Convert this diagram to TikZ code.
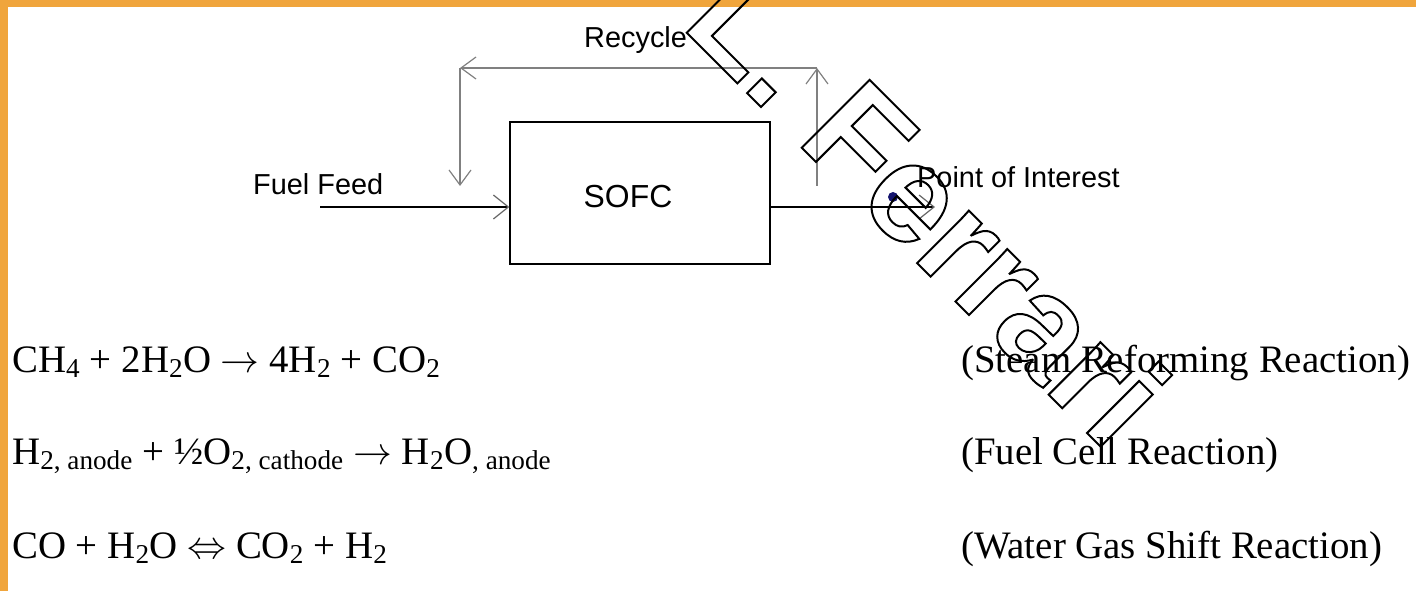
\documentclass[tikz,border=0pt]{standalone}
\usepackage{fix-cm}
\usepackage{fontspec}
\setmainfont{Liberation Serif}
\setsansfont{Liberation Sans}
\usetikzlibrary{arrows.meta}

\definecolor{slideorange}{RGB}{240,165,60}
\definecolor{dotnavy}{RGB}{20,20,110}

\begin{document}
\begin{tikzpicture}[x=1bp,y=-1bp,
  labeltext/.style={font=\sffamily\fontsize{29}{34}\selectfont, inner sep=0, anchor=base west},
  eqtext/.style={font=\fontsize{39}{47}\selectfont, inner sep=0, anchor=base west},
  unitbox/.style={draw, line width=1.3bp, minimum width=260bp, minimum height=142bp, inner sep=0},
  unitlabel/.style={font=\sffamily\fontsize{32}{38}\selectfont, inner sep=0},
  feedline/.style={line width=1.2bp, -{Straight Barb[length=15bp, width=24bp, color=black!60]}},
  recycleline/.style={black!50, line width=1.2bp, -{Straight Barb[length=15bp, width=22bp]}},
  poi/.style={circle, fill=dotnavy, minimum size=10bp, inner sep=0},
  watermark/.style={font=\sffamily\bfseries\fontsize{140}{140}\selectfont, inner sep=0, rotate=-45, anchor=base west}]
\useasboundingbox (0,0) rectangle (1416,591);
\fill[slideorange] (0,0) rectangle (8,591);
\fill[slideorange] (0,0) rectangle (1416,7);

\node[unitbox] (sofc) at (640,193) {};
\node[unitlabel] (sofclbl) at (628,197) {SOFC};
\node[labeltext] (feedlbl) at (253,195) {Fuel Feed};
\node[labeltext] (reclbl) at (584,48) {Recycle};
\node[labeltext] (poilbl) at (917,188) {Point of Interest};
\node[poi] (point) at (893,197) {};

\coordinate (feedin) at (320,207);
\coordinate (outlet) at (935,207);
\coordinate (recup) at (817,186);
\coordinate (rectr) at (817,68);
\coordinate (rectl) at (460,68);
\coordinate (recdown) at (460,186);

\draw[feedline] (feedin) -- (feedin -| sofc.west);
\draw[feedline] (outlet -| sofc.east) -- (outlet);
\draw[recycleline] (recup) -- (rectr);
\draw[recycleline] (rectr) -- (rectl);
\draw[recycleline] (rectl) -- (recdown);

% reactions
\node[eqtext] (eqsr) at (12,372) {CH\textsubscript{4} + 2H\textsubscript{2}O $\rightarrow$ 4H\textsubscript{2} + CO\textsubscript{2}};
\node[eqtext] (eqfc) at (12,464) {H\textsubscript{2, anode} + ½O\textsubscript{2, cathode} $\rightarrow$ H\textsubscript{2}O\textsubscript{, anode}};
\node[eqtext] (eqws) at (12,558) {CO + H\textsubscript{2}O $\Leftrightarrow$ CO\textsubscript{2} + H\textsubscript{2}};
\node[eqtext] (namesr) at (961,372) {(Steam Reforming Reaction)};
\node[eqtext] (namefc) at (961,464) {(Fuel Cell Reaction)};
\node[eqtext] (namews) at (961,558) {(Water Gas Shift Reaction)};

\node[watermark] (wm) at (680,26) {\special{pdf:literal direct 1 Tr 2 w 0 G}L. Ferrari\special{pdf:literal direct 0 Tr}};
\end{tikzpicture}
\end{document}
